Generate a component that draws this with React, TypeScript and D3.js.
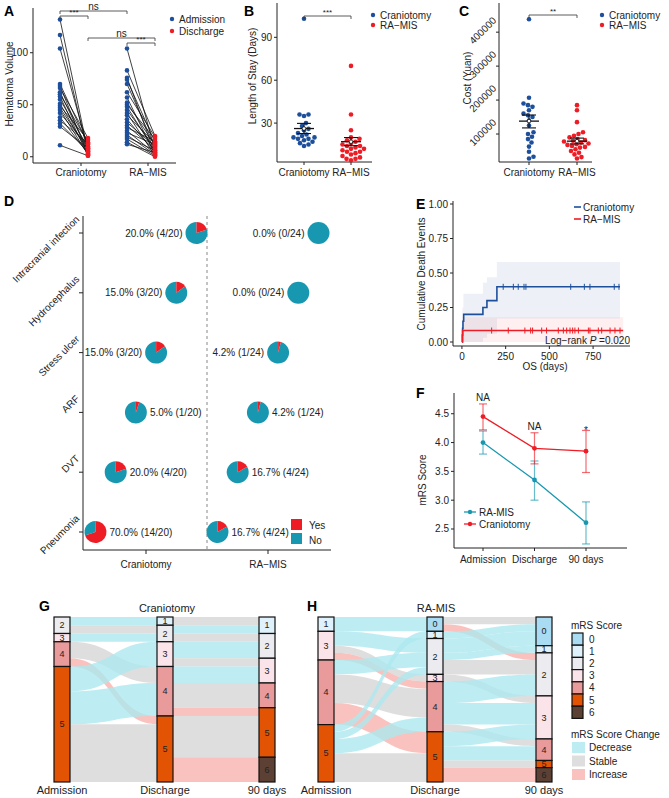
import React from "react";
import * as d3 from "d3";

// ---------- data ----------
const groups = ["Craniotomy", "RA−MIS"];

// A: hematoma volume, paired admission / discharge
const aCranAdm = [132, 117, 104, 70, 68, 66, 62, 60, 58, 55, 51, 49, 47, 45, 42, 38, 35, 32, 29, 11];
const aCranDis = [5, 3, 8, 12, 2, 18, 6, 14, 1, 9, 4, 16, 7, 2, 10, 3, 13, 5, 8, 1];
const aRaAdm = [104, 83, 76, 74, 70, 62, 57, 52, 50, 48, 45, 42, 40, 36, 33, 30, 28, 25, 23, 21, 19, 17, 14, 12];
const aRaDis = [6, 20, 3, 14, 9, 19, 2, 11, 17, 5, 8, 1, 13, 4, 10, 7, 15, 3, 12, 2, 6, 1, 0, 4];
const aTicks = [0, 50, 100];

// B: length of stay
const bCran = [103, 36, 36, 35, 30, 28, 26, 25, 23, 22, 21, 20, 20, 19, 19, 18, 17, 16, 15, 14];
const bRa = [70, 36, 25, 20, 19, 18, 17, 16, 15, 14, 14, 13, 12, 12, 11, 10, 10, 9, 8, 7, 6, 5, 5, 4];
const bMean = [26.2, 17];
const bLo = [22.7, 14.2];
const bHi = [29.8, 19.9];
const bTicks = [30, 60, 90];

// C: cost
const cCran = [438000, 207000, 190000, 185000, 180000, 170000, 160000, 155000, 150000, 140000, 125000, 105000, 100000, 92000, 85000, 75000, 63000, 48000, 33000, 28000];
const cRa = [185000, 170000, 135000, 105000, 100000, 95000, 90000, 85000, 82000, 80000, 78000, 75000, 72000, 70000, 68000, 65000, 62000, 60000, 55000, 50000, 45000, 40000, 32000, 28000];
const cMean = [138000, 79000];
const cLo = [118000, 71000];
const cHi = [156000, 88000];
const cTicks = [100000, 200000, 300000, 400000];

// D: complications
const dComps = ["Intracranial infection", "Hydrocephalus", "Stress ulcer", "ARF", "DVT", "Pneumonia"];
const dCranYes = [4, 3, 3, 1, 4, 14];
const dRaYes = [0, 0, 1, 1, 4, 4];
const dTotals = [20, 24];

// E: cumulative death events
const eCranT = [0, 2, 4, 6, 10, 120, 143, 200, 904];
const eCranY = [0, 0.05, 0.1, 0.15, 0.2, 0.25, 0.3, 0.4, 0.4];
const eRaT = [0, 4, 922];
const eRaY = [0, 0.083, 0.083];
const eCranBandT = [3, 8, 120, 143, 200, 904];
const eCranBandLo = [0, 0, 0.03, 0.06, 0.17, 0.17];
const eCranBandHi = [0.25, 0.35, 0.43, 0.47, 0.58, 0.58];
const eRaBandT = [4, 922];
const eRaBandLo = [0, 0];
const eRaBandHi = [0.18, 0.18];
const eCranCens = [236, 294, 322, 355, 366, 622, 700, 732, 871, 898];
const eRaCens = [170, 265, 360, 393, 404, 456, 484, 551, 580, 599, 618, 633, 646, 666, 723, 732, 780, 799, 847, 875, 904];
const eXTicks = [0, 250, 500, 750];
const eYTicks = [0, 0.25, 0.5, 0.75, 1];

// F: mRS score over time
const fTimes = ["Admission", "Discharge", "90 days"];
const fCranMean = [4.45, 3.9, 3.85];
const fCranLo = [4.22, 3.63, 3.48];
const fCranHi = [4.67, 4.17, 4.21];
const fRaMean = [4.0, 3.35, 2.61];
const fRaLo = [3.8, 3.0, 2.24];
const fRaHi = [4.2, 3.68, 2.97];
const fNotes = ["NA", "NA", "*"];
const fTicks = [2.5, 3.0, 3.5, 4.0, 4.5];

// G / H: mRS flows [from, to, patients]
const gAdmDis = [[2, 1, 1], [2, 2, 1], [3, 2, 1], [4, 4, 2], [4, 5, 1], [5, 3, 3], [5, 4, 4], [5, 5, 7]];
const gDis90 = [[1, 1, 1], [2, 1, 1], [2, 2, 1], [3, 2, 2], [3, 3, 1], [4, 3, 2], [4, 4, 3], [4, 5, 1], [5, 5, 5], [5, 6, 3]];
const hAdmDis = [[1, 0, 2], [3, 2, 2], [3, 3, 1], [3, 4, 1], [4, 2, 2], [4, 4, 4], [4, 5, 3], [5, 1, 1], [5, 2, 1], [5, 4, 2], [5, 5, 4]];
const hDis90 = [[0, 0, 1], [0, 2, 1], [1, 0, 1], [2, 0, 2], [2, 1, 1], [2, 2, 2], [3, 3, 1], [4, 2, 3], [4, 3, 3], [4, 4, 1], [5, 3, 2], [5, 4, 2], [5, 5, 1], [5, 6, 2]];
const mrsLevels = [0, 1, 2, 3, 4, 5, 6];
const changeLevels = ["Decrease", "Stable", "Increase"];

// ---------- style ----------
const FONT = "'Liberation Sans', Arial, Helvetica, sans-serif";
const BLUE = "#1d4f9b";
const RED = "#ee1c25";
const TEAL = "#1898b0";
const AX = "#222";
const mrsColor = d3.scaleOrdinal<number, string>().domain(mrsLevels)
  .range(["#a9dbf2", "#dff1fa", "#ebebf0", "#fbe3ea", "#e99a9a", "#e25403", "#5c4033"]);
const changeColor = d3.scaleOrdinal<string, string>().domain(changeLevels)
  .range(["#ade8ef", "#d6d6d6", "#f9b3ae"]);

const txt = { fontFamily: FONT, fontSize: 10, fill: "#222" };
const letter = { fontFamily: FONT, fontSize: 14, fontWeight: "bold" as const, fill: "#000" };

function swarm(vals: number[], y: (v: number) => number, cx: number, r: number) {
  const placed: { x: number; y: number }[] = [];
  [...vals].sort((a, b) => a - b).forEach((v) => {
    const py = y(v);
    let off = 0;
    for (let k = 0; k < 300; k++) {
      const c = k === 0 ? 0 : (k % 2 ? 1 : -1) * Math.ceil(k / 2) * 0.5;
      if (placed.every((p) => (p.x - cx - c) ** 2 + (p.y - py) ** 2 >= (2 * r) ** 2)) { off = c; break; }
    }
    placed.push({ x: cx + off, y: py });
  });
  return placed;
}

function YAxis({ scale, x, ticks, fmt, top, bottom, rot }: any) {
  return (
    <g>
      <line x1={x} x2={x} y1={top} y2={bottom} stroke={AX} />
      {ticks.map((t: number) => (
        <g key={t}>
          <line x1={x - 3} x2={x} y1={scale(t)} y2={scale(t)} stroke={AX} />
          {rot ? (
            <text transform={`translate(${x - 2},${scale(t) - 11}) rotate(-45)`} textAnchor="end" {...txt}>{fmt(t)}</text>
          ) : (
            <text x={x - 5} y={scale(t)} dy="0.35em" textAnchor="end" {...txt}>{fmt(t)}</text>
          )}
        </g>
      ))}
    </g>
  );
}

function Bracket({ x1, x2, y, label, size = 10 }: any) {
  return (
    <g>
      <path d={`M${x1},${y + 3}V${y}H${x2}V${y + 3}`} fill="none" stroke="#333" strokeWidth={0.8} />
      <text x={(x1 + x2) / 2} y={y - 1.5} textAnchor="middle" {...txt} fontSize={size}>{label}</text>
    </g>
  );
}

function Legend2({ x, y, gap, labels, colors }: any) {
  return (
    <g>
      {labels.map((l: string, i: number) => (
        <g key={l}>
          <circle cx={x} cy={y + i * gap} r={2.2} fill={colors[i]} />
          <text x={x + 7} y={y + i * gap} dy="0.35em" {...txt}>{l}</text>
        </g>
      ))}
    </g>
  );
}

function PanelA() {
  const y = d3.scaleLinear().domain([-6, 143]).range([163, 8]);
  const x = d3.scalePoint<string>().domain(groups).range([81, 148]);
  const sets = [
    { g: groups[0], adm: aCranAdm, dis: aCranDis },
    { g: groups[1], adm: aRaAdm, dis: aRaDis },
  ];
  const xa = (g: string) => (x(g) as number) - 21;
  const xd = (g: string) => (x(g) as number) + 7;
  return (
    <g>
      <text x={4} y={16} {...letter}>A</text>
      <YAxis scale={y} x={33} ticks={aTicks} fmt={(d: number) => d} top={8} bottom={163} />
      <line x1={33} x2={176} y1={163} y2={163} stroke={AX} />
      {groups.map((g) => (
        <g key={g}>
          <line x1={x(g)} x2={x(g)} y1={163} y2={166} stroke={AX} />
          <text x={x(g)} y={172} dy="0.35em" textAnchor="middle" {...txt}>{g}</text>
        </g>
      ))}
      <text transform="translate(9,84) rotate(-90)" textAnchor="middle" dy="0.35em" {...txt}>Hematoma Volume</text>
      {sets.map((s) => s.adm.map((v, i) => (
        <line key={s.g + i} x1={xa(s.g)} y1={y(v)} x2={xd(s.g)} y2={y(s.dis[i])} stroke="#111" strokeWidth={0.8} />
      )))}
      {sets.map((s) => s.adm.map((v, i) => (
        <g key={"p" + s.g + i}>
          <circle cx={xa(s.g)} cy={y(v)} r={2.3} fill={BLUE} />
          <circle cx={xd(s.g)} cy={y(s.dis[i])} r={2.3} fill={RED} />
        </g>
      )))}
      <Bracket x1={xa(groups[0])} x2={xa(groups[1])} y={11} label="ns" />
      <Bracket x1={xa(groups[0])} x2={xd(groups[0])} y={16} label="***" size={8} />
      <Bracket x1={xd(groups[0])} x2={xd(groups[1])} y={38} label="ns" />
      <Bracket x1={xa(groups[1])} x2={xd(groups[1])} y={43} label="***" size={8} />
      <Legend2 x={172} y={19} gap={12} labels={["Admission", "Discharge"]} colors={[BLUE, RED]} />
    </g>
  );
}

function MeanBar({ x, y, mean, lo, hi, w }: any) {
  return (
    <g stroke="#111" strokeWidth={1.1}>
      <line x1={x} x2={x} y1={y(lo)} y2={y(hi)} />
      <line x1={x - w * 0.35} x2={x + w * 0.35} y1={y(lo)} y2={y(lo)} />
      <line x1={x - w * 0.35} x2={x + w * 0.35} y1={y(hi)} y2={y(hi)} />
      <line x1={x - w / 2} x2={x + w / 2} y1={y(mean)} y2={y(mean)} strokeWidth={1.3} />
      <circle cx={x} cy={y(mean)} r={1.8} fill="#fff" strokeWidth={0.8} />
    </g>
  );
}

function SwarmPanel({ label, lx, yScale, xRange, axisX, axisRight, data, mean, lo, hi, ticks, fmt, rot, ylab, ylabX, ylabY, bracketY, star, legX }: any) {
  const x = d3.scalePoint<string>().domain(groups).range(xRange);
  const colors = [BLUE, RED];
  return (
    <g>
      <text x={lx} y={16} {...letter}>{label}</text>
      <YAxis scale={yScale} x={axisX} ticks={ticks} fmt={fmt} top={3} bottom={162} rot={rot} />
      <line x1={axisX} x2={axisRight} y1={162} y2={162} stroke={AX} />
      {groups.map((g) => (
        <g key={g}>
          <line x1={x(g)} x2={x(g)} y1={162} y2={165} stroke={AX} />
          <text x={x(g)} y={172} dy="0.35em" textAnchor="middle" {...txt}>{g}</text>
        </g>
      ))}
      <text transform={`translate(${ylabX},${ylabY}) rotate(-90)`} textAnchor="middle" dy="0.35em" {...txt}>{ylab}</text>
      {groups.map((g, gi) => swarm(data[gi], yScale, x(g) as number, 2.3).map((p, i) => (
        <circle key={g + i} cx={p.x} cy={p.y} r={2.3} fill={colors[gi]} />
      )))}
      {groups.map((g, gi) => (
        <MeanBar key={g} x={x(g)} y={yScale} mean={mean[gi]} lo={lo[gi]} hi={hi[gi]} w={20} />
      ))}
      <Bracket x1={x(groups[0])} x2={x(groups[1])} y={bracketY} label={star} size={8} />
      <Legend2 x={legX} y={15} gap={10} labels={groups} colors={colors} />
    </g>
  );
}

function PanelD() {
  const y = d3.scalePoint<string>().domain(dComps).range([233, 532]);
  const x = d3.scalePoint<string>().domain(groups).range([146, 268]);
  const arc = d3.arc<any>().innerRadius(0).outerRadius(11);
  const pie = d3.pie<number>().sort(null);
  const yesSets = [dCranYes, dRaYes];
  return (
    <g>
      <text x={4} y={206} {...letter}>D</text>
      <line x1={83} x2={83} y1={216} y2={550} stroke={AX} />
      <line x1={83} x2={331} y1={550} y2={550} stroke={AX} />
      <line x1={207} x2={207} y1={216} y2={550} stroke="#888" strokeDasharray="3,3" />
      {dComps.map((c) => (
        <g key={c}>
          <line x1={79} x2={83} y1={y(c)} y2={y(c)} stroke={AX} />
          <text transform={`translate(80,${(y(c) as number) - 13}) rotate(-45)`} textAnchor="end" {...txt}>{c}</text>
        </g>
      ))}
      {groups.map((g) => (
        <g key={g}>
          <line x1={x(g)} x2={x(g)} y1={550} y2={554} stroke={AX} />
          <text x={x(g)} y={564} dy="0.35em" textAnchor="middle" {...txt}>{g}</text>
        </g>
      ))}
      {groups.map((g, gi) => dComps.map((c, i) => {
        const cx = (x(g) as number) + (2.5 - i) * 20.2;
        const cy = y(c) as number;
        const yes = yesSets[gi][i];
        const n = dTotals[gi];
        const arcs = pie([yes, n - yes]);
        const lab = `${((yes / n) * 100).toFixed(1)}% (${yes}/${n})`;
        return (
          <g key={g + c}>
            <g transform={`translate(${cx},${cy})`}>
              <path d={arc(arcs[1]) as string} fill={TEAL} />
              {yes > 0 && <path d={arc(arcs[0]) as string} fill={RED} />}
            </g>
            <text x={i < 3 ? cx - 14 : cx + 14} y={cy} dy="0.35em" textAnchor={i < 3 ? "end" : "start"} {...txt}>{lab}</text>
          </g>
        );
      }))}
      <rect x={291} y={519} width={11} height={11} fill={RED} />
      <rect x={291} y={533} width={11} height={11} fill={TEAL} />
      <text x={309} y={525} dy="0.35em" {...txt}>Yes</text>
      <text x={309} y={540} dy="0.35em" {...txt}>No</text>
    </g>
  );
}

function PanelE() {
  const x = d3.scaleLinear().domain([-51, 961]).range([453, 630]);
  const y = d3.scaleLinear().domain([0, 1]).range([342, 204]);
  const cranLine = d3.line<number>().curve(d3.curveStepAfter).x((t) => x(t)).y((_, i) => y(eCranY[i]))(eCranT);
  const raLine = d3.line<number>().curve(d3.curveStepAfter).x((t) => x(t)).y((_, i) => y(eRaY[i]))(eRaT);
  const cranBand = d3.area<number>().curve(d3.curveStepAfter).x((t) => x(t)).y0((_, i) => y(eCranBandLo[i])).y1((_, i) => y(eCranBandHi[i]))(eCranBandT);
  const raBand = d3.area<number>().curve(d3.curveStepAfter).x((t) => x(t)).y0((_, i) => y(eRaBandLo[i])).y1((_, i) => y(eRaBandHi[i]))(eRaBandT);
  const lastCran = eCranY[eCranY.length - 1];
  const lastRa = eRaY[eRaY.length - 1];
  return (
    <g>
      <text x={416} y={209} {...letter}>E</text>
      <path d={cranBand as string} fill={BLUE} fillOpacity={0.08} />
      <path d={raBand as string} fill={RED} fillOpacity={0.07} />
      <YAxis scale={y} x={453} ticks={eYTicks} fmt={(d: number) => d.toFixed(2)} top={201} bottom={346} />
      <line x1={453} x2={630} y1={346} y2={346} stroke={AX} />
      {eXTicks.map((t) => (
        <g key={t}>
          <line x1={x(t)} x2={x(t)} y1={346} y2={349} stroke={AX} />
          <text x={x(t)} y={356} dy="0.35em" textAnchor="middle" {...txt}>{t}</text>
        </g>
      ))}
      <text x={545} y={366} dy="0.35em" textAnchor="middle" {...txt}>OS (days)</text>
      <text transform="translate(421,274) rotate(-90)" textAnchor="middle" dy="0.35em" {...txt}>Cumulative Death Events</text>
      <path d={cranLine as string} fill="none" stroke={BLUE} strokeWidth={1.6} />
      <path d={raLine as string} fill="none" stroke={RED} strokeWidth={1.6} />
      {eCranCens.map((t) => <line key={"c" + t} x1={x(t)} x2={x(t)} y1={y(lastCran) - 3} y2={y(lastCran) + 3} stroke={BLUE} strokeWidth={1} />)}
      {eRaCens.map((t) => <line key={"r" + t} x1={x(t)} x2={x(t)} y1={y(lastRa) - 3} y2={y(lastRa) + 3} stroke={RED} strokeWidth={1} />)}
      <line x1={574} x2={581} y1={207} y2={207} stroke={BLUE} strokeWidth={1.6} />
      <line x1={574} x2={581} y1={219} y2={219} stroke={RED} strokeWidth={1.6} />
      <text x={583} y={207} dy="0.35em" {...txt}>Craniotomy</text>
      <text x={583} y={219} dy="0.35em" {...txt}>RA−MIS</text>
      <text x={630} y={344} textAnchor="end" {...txt}>
        Log−rank <tspan fontStyle="italic">P</tspan> =0.020
      </text>
    </g>
  );
}

function PanelF() {
  const x = d3.scalePoint<string>().domain(fTimes).range([483, 586]);
  const y = d3.scaleLinear().domain([2.17, 4.86]).range([548, 393]);
  const series = [
    { name: "RA-MIS", color: TEAL, mean: fRaMean, lo: fRaLo, hi: fRaHi },
    { name: "Craniotomy", color: RED, mean: fCranMean, lo: fCranLo, hi: fCranHi },
  ];
  const line = d3.line<number>().x((_, i) => x(fTimes[i]) as number).y((v) => y(v));
  return (
    <g>
      <text x={416} y={398} {...letter}>F</text>
      <YAxis scale={y} x={454} ticks={fTicks} fmt={(d: number) => d.toFixed(1)} top={393} bottom={548} />
      <line x1={454} x2={627} y1={548} y2={548} stroke={AX} />
      {fTimes.map((t) => (
        <g key={t}>
          <line x1={x(t)} x2={x(t)} y1={548} y2={551} stroke={AX} />
          <text x={x(t)} y={559} dy="0.35em" textAnchor="middle" {...txt}>{t}</text>
        </g>
      ))}
      <text transform="translate(422,480) rotate(-90)" textAnchor="middle" dy="0.35em" {...txt}>mRS Score</text>
      {series.map((s) => (
        <g key={s.name}>
          {fTimes.map((t, i) => (
            <g key={t} stroke={s.color} strokeOpacity={0.65} strokeWidth={1.2}>
              <line x1={x(t)} x2={x(t)} y1={y(s.lo[i])} y2={y(s.hi[i])} />
              <line x1={(x(t) as number) - 4} x2={(x(t) as number) + 4} y1={y(s.lo[i])} y2={y(s.lo[i])} />
              <line x1={(x(t) as number) - 4} x2={(x(t) as number) + 4} y1={y(s.hi[i])} y2={y(s.hi[i])} />
            </g>
          ))}
          <path d={line(s.mean) as string} fill="none" stroke={s.color} strokeWidth={1.3} />
          {s.mean.map((v, i) => <circle key={i} cx={x(fTimes[i])} cy={y(v)} r={2.4} fill={s.color} />)}
        </g>
      ))}
      {fTimes.map((t, i) => (
        <text key={t} x={x(t)} y={y(Math.max(fCranHi[i], fRaHi[i])) - (fNotes[i] === "*" ? -4 : 3)} textAnchor="middle" {...txt}>{fNotes[i]}</text>
      ))}
      {series.map((s, i) => (
        <g key={s.name}>
          <line x1={464} x2={476} y1={512 + i * 12} y2={512 + i * 12} stroke={s.color} strokeWidth={1.3} />
          <circle cx={470} cy={512 + i * 12} r={2.2} fill={s.color} />
          <text x={479} y={512 + i * 12} dy="0.35em" {...txt}>{s.name}</text>
        </g>
      ))}
    </g>
  );
}

function stack(flows: number[][], key: number, other: number, top: number, unit: number) {
  const sorted = [...flows].sort((a, b) => a[key] - b[key] || a[other] - b[other]);
  const pos = new Map<number[], number>();
  let acc = top;
  sorted.forEach((f) => { pos.set(f, acc); acc += f[2] * unit; });
  return pos;
}

function strata(flows: number[][], key: number) {
  const roll = d3.rollup(flows, (v) => d3.sum(v, (d) => d[2]), (d) => d[key]);
  return mrsLevels.filter((l) => roll.has(l)).map((l) => ({ level: l, n: roll.get(l) as number }));
}

function Alluvial({ flows1, flows2, xs, title, titleX, label, labelX }: any) {
  const top = 617, bottom = 782, w = 16;
  const total = d3.sum(flows1, (d: number[]) => d[2]);
  const unit = (bottom - top) / total;
  const axes = [strata(flows1, 0), strata(flows1, 1), strata(flows2, 1)];
  const ribbons: any[] = [];
  [flows1, flows2].forEach((fl: number[][], k: number) => {
    const left = stack(fl, 0, 1, top, unit);
    const right = stack(fl, 1, 0, top, unit);
    const xl = xs[k] + w, xr = xs[k + 1], xm = (xl + xr) / 2;
    fl.forEach((f, i) => {
      const y0 = left.get(f) as number, y1 = right.get(f) as number, h = f[2] * unit;
      const ch = f[1] < f[0] ? "Decrease" : f[1] === f[0] ? "Stable" : "Increase";
      ribbons.push({
        key: `${k}-${i}`, ch,
        d: `M${xl},${y0}C${xm},${y0} ${xm},${y1} ${xr},${y1}L${xr},${y1 + h}C${xm},${y1 + h} ${xm},${y0 + h} ${xl},${y0 + h}Z`,
      });
    });
  });
  const axisNames = ["Admission", "Discharge", "90 days"];
  return (
    <g>
      <text x={labelX} y={611} {...letter}>{label}</text>
      <text x={titleX} y={608} dy="0.35em" textAnchor="middle" {...txt} fontSize={11}>{title}</text>
      {ribbons.map((r) => <path key={r.key} d={r.d} fill={changeColor(r.ch)} fillOpacity={0.8} />)}
      {axes.map((st, a) => {
        let acc = top;
        return (
          <g key={a}>
            {st.map((s) => {
              const y0 = acc, h = s.n * unit;
              acc += h;
              return (
                <g key={s.level}>
                  <rect x={xs[a]} y={y0} width={w} height={h} fill={mrsColor(s.level)} stroke="#111" strokeWidth={1.2} />
                  <text x={xs[a] + w / 2} y={y0 + h / 2} dy="0.35em" textAnchor="middle" {...txt} fontSize={9}>{s.level}</text>
                </g>
              );
            })}
            <text x={xs[a] + w / 2} y={790} dy="0.35em" textAnchor="middle" {...txt} fontSize={11}>{axisNames[a]}</text>
          </g>
        );
      })}
    </g>
  );
}

function AlluvialLegend() {
  return (
    <g>
      <text x={571} y={625} dy="0.35em" {...txt}>mRS Score</text>
      {mrsLevels.map((l, i) => (
        <g key={l}>
          <rect x={572} y={633 + i * 12.2} width={11} height={12.2} fill={mrsColor(l)} stroke="#111" strokeWidth={1.2} />
          <text x={589} y={639 + i * 12.2} dy="0.35em" {...txt}>{l}</text>
        </g>
      ))}
      <text x={571} y={734} dy="0.35em" {...txt}>mRS Score Change</text>
      {changeLevels.map((c, i) => (
        <g key={c}>
          <rect x={572} y={742 + i * 13.5} width={13} height={11} fill={changeColor(c)} fillOpacity={0.8} />
          <text x={589} y={747.5 + i * 13.5} dy="0.35em" {...txt}>{c}</text>
        </g>
      ))}
    </g>
  );
}

export default function App() {
  const yB = d3.scaleLinear().domain([2.8, 114]).range([162, 3]);
  const yC = d3.scaleLinear().domain([17600, 480000]).range([162, 5]);
  return (
    <div style={{ position: "absolute", left: 0, top: 0 }}>
      <svg width={669} height={798} style={{ display: "block", background: "#fff" }}>
        <PanelA />
        <SwarmPanel label="B" lx={244} yScale={yB} xRange={[304, 351]} axisX={277} axisRight={372}
          data={[bCran, bRa]} mean={bMean} lo={bLo} hi={bHi} ticks={bTicks} fmt={(d: number) => d}
          ylab="Length of Stay (Days)" ylabX={252} ylabY={76} bracketY={16} star="***" legX={373} />
        <SwarmPanel label="C" lx={459} yScale={yC} xRange={[529, 577]} axisX={499} axisRight={592}
          data={[cCran, cRa]} mean={cMean} lo={cLo} hi={cHi} ticks={cTicks} fmt={(d: number) => d} rot
          ylab="Cost (Yuan)" ylabX={467} ylabY={78} bracketY={15} star="**" legX={602} />
        <PanelD />
        <PanelE />
        <PanelF />
        <Alluvial flows1={gAdmDis} flows2={gDis90} xs={[54, 157, 259]} title="Craniotomy" titleX={167} label="G" labelX={39} />
        <Alluvial flows1={hAdmDis} flows2={hDis90} xs={[318, 427, 536]} title="RA-MIS" titleX={436} label="H" labelX={307} />
        <AlluvialLegend />
      </svg>
    </div>
  );
}
